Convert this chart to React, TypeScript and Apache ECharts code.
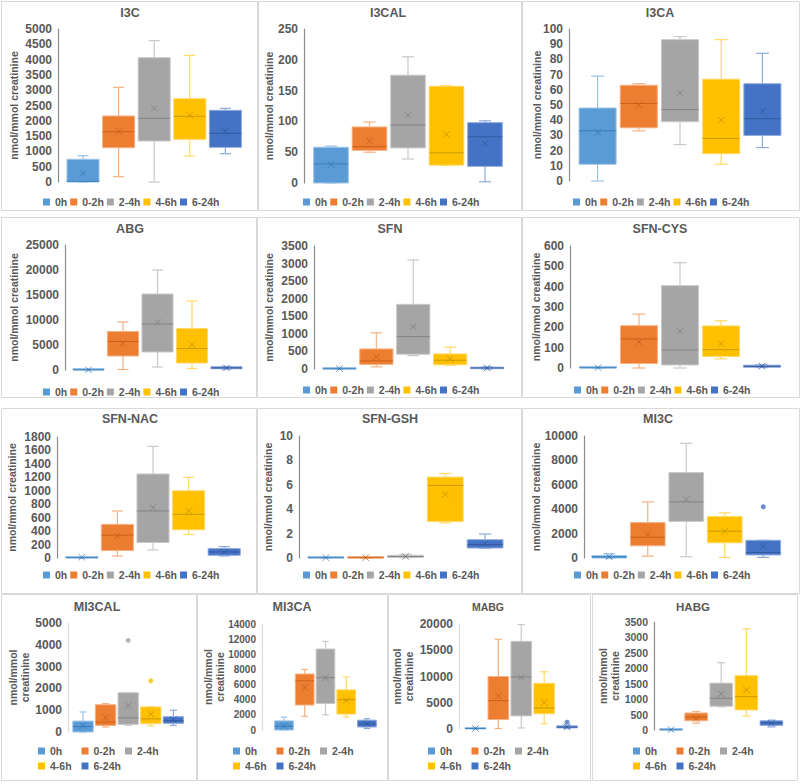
import React, { useEffect, useRef } from 'react';
import * as echarts from 'echarts';

const CATEGORIES = ['0h', '0-2h', '2-4h', '4-6h', '6-24h'];
const FILL = ['#5B9BD5', '#ED7D31', '#A5A5A5', '#FFC000', '#4472C4'];
const LIGHT = ['#9DC3E6', '#F4B183', '#C9C9C9', '#FFD966', '#8FAADC'];
const DARK = ['#2E75B6', '#C55A11', '#7B7B7B', '#BF9000', '#2F5597'];
const TEXT = '#595959';
const FONT = 'Liberation Sans, Arial, sans-serif';

// each row: [min, q1, median, q3, max]
const I3C_BOX = [[0, 0, 20, 742, 860], [174, 1121, 1644, 2157, 3094], [0, 1340, 2081, 4063, 4619], [850, 1394, 2146, 2723, 4139], [925, 1133, 1590, 2342, 2407]];
const I3C_MEAN = [284, 1650, 2407, 2178, 1667];
const I3CAL_BOX = [[0, 0, 31, 58, 60], [50, 53, 59, 91, 99], [39, 57, 94, 175, 205], [29, 29, 49, 157, 158], [2, 27, 75, 98, 101]];
const I3CAL_MEAN = [30, 68, 110, 79, 64];
const I3CA_BOX = [[0, 11, 33, 48, 69], [33, 35, 51, 63, 64], [24, 39, 47, 93, 95], [11, 18, 28, 67, 93], [22, 30, 41, 64, 84]];
const I3CA_MEAN = [32, 50, 58, 40, 46];
const ABG_BOX = [[0, 0, 20, 80, 150], [100, 2800, 5700, 7700, 9600], [600, 3600, 9200, 15200, 20000], [300, 1400, 4300, 8300, 13800], [200, 250, 400, 650, 700]];
const ABG_MEAN = [40, 5300, 9500, 5100, 420];
const SFN_BOX = [[0, 0, 5, 15, 25], [60, 130, 230, 570, 1030], [380, 420, 920, 1840, 3100], [110, 120, 250, 430, 620], [0, 10, 30, 50, 60]];
const SFN_MEAN = [10, 350, 1200, 280, 30];
const SFNCYS_BOX = [[0, 0, 1, 3, 4], [0, 22, 143, 208, 265], [0, 15, 88, 405, 518], [45, 57, 90, 207, 232], [2, 4, 8, 14, 16]];
const SFNCYS_MEAN = [2, 128, 180, 120, 9];
const SFNNAC_BOX = [[0, 0, 5, 15, 20], [30, 110, 340, 500, 700], [120, 230, 700, 1250, 1660], [350, 420, 650, 1000, 1200], [30, 40, 90, 140, 170]];
const SFNNAC_MEAN = [10, 330, 750, 700, 90];
const SFNGSH_BOX = [[0, 0, 0.02, 0.06, 0.08], [0, 0, 0.02, 0.06, 0.08], [0.02, 0.05, 0.12, 0.22, 0.3], [2.88, 3.0, 5.95, 6.63, 6.93], [0.8, 0.82, 1.1, 1.5, 1.97]];
const SFNGSH_MEAN = [0.03, 0.03, 0.12, 5.2, 1.18];
const MI3C_BOX = [[0, 0, 80, 200, 350], [150, 1000, 1700, 2900, 4600], [100, 3000, 4600, 7000, 9400], [50, 1250, 2200, 3400, 3700], [50, 250, 450, 1450, 1450]];
const MI3C_MEAN = [100, 1950, 4800, 2200, 950];
const MI3C_OUT = [[4, 4200]];
const MI3CAL_BOX = [[0, 0, 250, 500, 920], [230, 300, 450, 1250, 1300], [300, 350, 650, 1800, 1800], [280, 380, 600, 1150, 1150], [300, 400, 520, 700, 1000]];
const MI3CAL_MEAN = [290, 650, 1200, 820, 580];
const MI3CAL_OUT = [[2, 4200], [3, 2350]];
const MI3CA_BOX = [[0, 0, 500, 1200, 1700], [1800, 3300, 6500, 7400, 8000], [2000, 3500, 6900, 10700, 11700], [1700, 2100, 4000, 5300, 7000], [200, 400, 800, 1300, 1500]];
const MI3CA_MEAN = [500, 5600, 6900, 3900, 800];
const MABG_BOX = [[0, 0, 100, 250, 300], [100, 1800, 5400, 10000, 17100], [200, 2500, 9900, 16700, 19900], [1000, 2900, 4000, 8700, 10900], [100, 200, 350, 600, 700]];
const MABG_MEAN = [100, 6300, 9800, 5100, 400];
const MABG_OUT = [[4, 1300]];
const HABG_BOX = [[0, 0, 5, 20, 40], [220, 300, 420, 550, 600], [750, 770, 1030, 1520, 2180], [450, 650, 1080, 1760, 3280], [100, 150, 230, 300, 320]];
const HABG_MEAN = [10, 380, 1170, 1300, 220];

// [max, interval]
const I3C_AXIS = [5000, 500];
const I3CAL_AXIS = [250, 50];
const I3CA_AXIS = [100, 10];
const ABG_AXIS = [25000, 5000];
const SFN_AXIS = [3500, 500];
const SFNCYS_AXIS = [600, 100];
const SFNNAC_AXIS = [1800, 200];
const SFNGSH_AXIS = [10, 2];
const MI3C_AXIS = [10000, 2000];
const MI3CAL_AXIS = [5000, 1000];
const MI3CA_AXIS = [14000, 2000];
const MABG_AXIS = [20000, 5000];
const HABG_AXIS = [3500, 500];

type Panel = {
  name: string; box: number[][]; mean: number[]; out: number[][]; axis: number[];
  frame: number[]; title: number[]; titleSize: number; grid: number[]; axisX: number; nameX: number;
  legend: number[]; two: boolean; labelSize: number; axisColor: string;
};

const DK = '#8C8C8C';
const LT = '#D9D9D9';

const PANELS: Panel[] = [
  { name: 'I3C', box: I3C_BOX, mean: I3C_MEAN, out: [], axis: I3C_AXIS, frame: [1, 1, 256, 209], title: [130, 13], titleSize: 12.5, grid: [65.2, 29, 178, 153], axisX: 58, nameX: 15, legend: [43, 202], two: false, labelSize: 12, axisColor: DK },
  { name: 'I3CAL', box: I3CAL_BOX, mean: I3CAL_MEAN, out: [], axis: I3CAL_AXIS, frame: [258, 1, 263, 209], title: [388, 13], titleSize: 12.5, grid: [311.75, 29, 192.5, 154], axisX: 304, nameX: 270, legend: [303, 202], two: false, labelSize: 12, axisColor: DK },
  { name: 'I3CA', box: I3CA_BOX, mean: I3CA_MEAN, out: [], axis: I3CA_AXIS, frame: [522, 1, 277, 209], title: [660, 13], titleSize: 12.5, grid: [577, 29, 206, 152], axisX: 569, nameX: 538, legend: [573, 202], two: false, labelSize: 12, axisColor: DK },
  { name: 'ABG', box: ABG_BOX, mean: ABG_MEAN, out: [], axis: ABG_AXIS, frame: [1, 217, 255, 180], title: [130, 229], titleSize: 12.5, grid: [71.25, 245, 172.5, 125], axisX: 65, nameX: 15, legend: [43, 392], two: false, labelSize: 12, axisColor: DK },
  { name: 'SFN', box: SFN_BOX, mean: SFN_MEAN, out: [], axis: SFN_AXIS, frame: [257, 217, 264, 180], title: [390, 229], titleSize: 12.5, grid: [321, 246, 184.5, 123], axisX: 314, nameX: 270, legend: [303, 390], two: false, labelSize: 12, axisColor: DK },
  { name: 'SFN-CYS', box: SFNCYS_BOX, mean: SFNCYS_MEAN, out: [], axis: SFNCYS_AXIS, frame: [522, 217, 277, 180], title: [660, 229], titleSize: 12.5, grid: [577.5, 246, 205, 122], axisX: 570, nameX: 537, legend: [574, 390], two: false, labelSize: 12, axisColor: DK },
  { name: 'SFN-NAC', box: SFNNAC_BOX, mean: SFNNAC_MEAN, out: [], axis: SFNNAC_AXIS, frame: [1, 408, 255, 185], title: [130, 419], titleSize: 12.5, grid: [64, 437, 178, 121], axisX: 57, nameX: 13, legend: [43, 575], two: false, labelSize: 12, axisColor: DK },
  { name: 'SFN-GSH', box: SFNGSH_BOX, mean: SFNGSH_MEAN, out: [], axis: SFNGSH_AXIS, frame: [257, 408, 264, 185], title: [390, 419], titleSize: 12.5, grid: [306, 436, 199, 122], axisX: 299, nameX: 269, legend: [303, 575], two: false, labelSize: 12, axisColor: DK },
  { name: 'MI3C', box: MI3C_BOX, mean: MI3C_MEAN, out: MI3C_OUT, axis: MI3C_AXIS, frame: [522, 408, 277, 185], title: [658, 419], titleSize: 12.5, grid: [590, 436, 192.5, 122], axisX: 584, nameX: 537, legend: [574, 575], two: false, labelSize: 12, axisColor: DK },
  { name: 'MI3CAL', box: MI3CAL_BOX, mean: MI3CAL_MEAN, out: MI3CAL_OUT, axis: MI3CAL_AXIS, frame: [1, 594, 195, 186], title: [97, 607], titleSize: 12.5, grid: [71.7, 623, 113, 109], axisX: 68, nameX: 18.5, legend: [38, 752], two: true, labelSize: 12, axisColor: LT },
  { name: 'MI3CA', box: MI3CA_BOX, mean: MI3CA_MEAN, out: [], axis: MI3CA_AXIS, frame: [197, 594, 190, 186], title: [292, 607], titleSize: 12.5, grid: [273.6, 624, 103.75, 106], axisX: 262, nameX: 214, legend: [233, 752], two: true, labelSize: 10, axisColor: LT },
  { name: 'MABG', box: MABG_BOX, mean: MABG_MEAN, out: MABG_OUT, axis: MABG_AXIS, frame: [388, 594, 202, 186], title: [488, 607], titleSize: 10.5, grid: [464, 624, 114.5, 105], axisX: 459, nameX: 403, legend: [428, 752], two: true, labelSize: 12, axisColor: LT },
  { name: 'HABG', box: HABG_BOX, mean: HABG_MEAN, out: [], axis: HABG_AXIS, frame: [592, 594, 205, 186], title: [693, 607], titleSize: 11.5, grid: [658.5, 622, 125.5, 108], axisX: 654, nameX: 608.5, legend: [633, 752], two: true, labelSize: 10.5, axisColor: DK },
];

function renderBox(params: any, api: any) {
  const i = api.value(0);
  const mn = api.value(1), q1 = api.value(2), md = api.value(3), q3 = api.value(4), mx = api.value(5), mean = api.value(6);
  const cw = api.size([1, 0])[0];
  const bw = cw * 0.9;
  const capW = bw * 0.35;
  const c = api.coord([i, 0])[0];
  const y = (v: number) => api.coord([i, v])[1];
  const yq1 = y(q1), yq3 = y(q3);
  let h = yq1 - yq3;
  let top = yq3;
  if (h < 1.5) { top = yq1 - 1.5; h = 1.5; }
  const lineStyle = { stroke: LIGHT[i], lineWidth: 1.2 };
  const ym = y(mean);
  const xs = 3.2;
  return {
    type: 'group',
    children: [
      { type: 'line', shape: { x1: c, y1: yq3, x2: c, y2: y(mx) }, style: lineStyle },
      { type: 'line', shape: { x1: c - capW / 2, y1: y(mx), x2: c + capW / 2, y2: y(mx) }, style: lineStyle },
      { type: 'line', shape: { x1: c, y1: yq1, x2: c, y2: y(mn) }, style: lineStyle },
      { type: 'line', shape: { x1: c - capW / 2, y1: y(mn), x2: c + capW / 2, y2: y(mn) }, style: lineStyle },
      { type: 'rect', shape: { x: c - bw / 2, y: top, width: bw, height: h }, style: { fill: FILL[i], stroke: LIGHT[i], lineWidth: 1 } },
      { type: 'line', shape: { x1: c - bw / 2, y1: y(md), x2: c + bw / 2, y2: y(md) }, style: { stroke: DARK[i], lineWidth: 1, opacity: 0.8 } },
      { type: 'line', shape: { x1: c - xs, y1: ym - xs, x2: c + xs, y2: ym + xs }, style: { stroke: DARK[i], lineWidth: 1, opacity: 0.75 } },
      { type: 'line', shape: { x1: c - xs, y1: ym + xs, x2: c + xs, y2: ym - xs }, style: { stroke: DARK[i], lineWidth: 1, opacity: 0.75 } },
    ],
  };
}

function buildOption() {
  const grid: any[] = [], xAxis: any[] = [], yAxis: any[] = [], series: any[] = [], legend: any[] = [], graphic: any[] = [];
  PANELS.forEach((p, k) => {
    const [fx, fy, fw, fh] = p.frame;
    graphic.push({ type: 'rect', silent: true, z: -1, shape: { x: fx + 0.5, y: fy + 0.5, width: fw, height: fh }, style: { fill: 'none', stroke: '#D9D9D9', lineWidth: 1 } });
    graphic.push({
      type: 'text', silent: true, x: p.title[0], y: p.title[1],
      style: { text: p.name, fill: TEXT, fontSize: p.titleSize, fontWeight: 'bold', fontFamily: FONT, align: 'center', verticalAlign: 'middle', textAlign: 'center', textVerticalAlign: 'middle' },
    });
    const [gl, gt, gw, gh] = p.grid;
    grid.push({ left: gl, top: gt, width: gw, height: gh });
    xAxis.push({ type: 'category', gridIndex: k, data: CATEGORIES, boundaryGap: true, show: false });
    const nameH = p.two ? 24 : 10.5;
    yAxis.push({
      type: 'value', gridIndex: k, min: 0, max: p.axis[0], interval: p.axis[1], offset: gl - p.axisX,
      axisLine: { show: true, lineStyle: { color: p.axisColor, width: 1.2 } },
      axisTick: { show: false }, splitLine: { show: false },
      axisLabel: { color: TEXT, fontSize: p.labelSize, fontWeight: 'bold', margin: 6, fontFamily: FONT, formatter: (v: number) => String(v) },
      name: p.two ? 'nmol/mmol\ncreatinine' : 'nmol/mmol creatinine',
      nameLocation: 'middle', nameRotate: 90, nameGap: p.axisX - p.nameX - nameH / 2,
      nameMoveOverlap: false,
      nameTextStyle: { color: TEXT, fontSize: 10.5, fontWeight: 'bold', lineHeight: 12, fontFamily: FONT },
    });
    series.push({
      type: 'custom', name: p.name, xAxisIndex: k, yAxisIndex: k, renderItem: renderBox, silent: true,
      encode: { x: 0, y: [1, 2, 3, 4, 5, 6] },
      data: p.box.map((b, i) => [i, b[0], b[1], b[2], b[3], b[4], p.mean[i]]),
    });
    if (p.out.length) {
      series.push({
        type: 'scatter', xAxisIndex: k, yAxisIndex: k, symbolSize: 5, silent: true,
        data: p.out.map(([i, v]) => ({ value: [i, v], itemStyle: { color: FILL[i] } })),
      });
    }
    if (p.two) {
      legend.push({
        data: CATEGORIES, left: p.legend[0], top: p.legend[1] - 6.5, width: 135, padding: 0,
        itemWidth: 7, itemHeight: 7, itemGap: 4, icon: 'rect', selectedMode: false,
        formatter: '{a|{name}}',
        textStyle: { rich: { a: { width: 27.5, lineHeight: 13, fontSize: 10.5, fontWeight: 'bold', color: TEXT, fontFamily: FONT } } },
      });
    } else {
      legend.push({
        data: CATEGORIES, left: p.legend[0], top: p.legend[1] - 5.5, padding: 0,
        itemWidth: 7, itemHeight: 7, itemGap: 3, icon: 'rect', selectedMode: false,
        textStyle: { color: TEXT, fontSize: 10.5, fontWeight: 'bold', fontFamily: FONT },
      });
    }
  });
  CATEGORIES.forEach((c, i) => {
    series.push({ type: 'bar', name: c, data: [], xAxisIndex: 0, yAxisIndex: 0, itemStyle: { color: FILL[i] } });
  });
  return {
    animation: false,
    backgroundColor: '#ffffff',
    textStyle: { fontFamily: FONT },
    grid, xAxis, yAxis, series, legend, graphic,
  };
}

export default function App() {
  const ref = useRef<HTMLDivElement>(null);
  useEffect(() => {
    if (!ref.current) return;
    const chart = echarts.init(ref.current, undefined, { renderer: 'svg' });
    chart.setOption(buildOption() as any);
    return () => chart.dispose();
  }, []);
  return <div ref={ref} style={{ position: 'absolute', left: 0, top: 0, width: 800, height: 784, background: '#fff' }} />;
}
